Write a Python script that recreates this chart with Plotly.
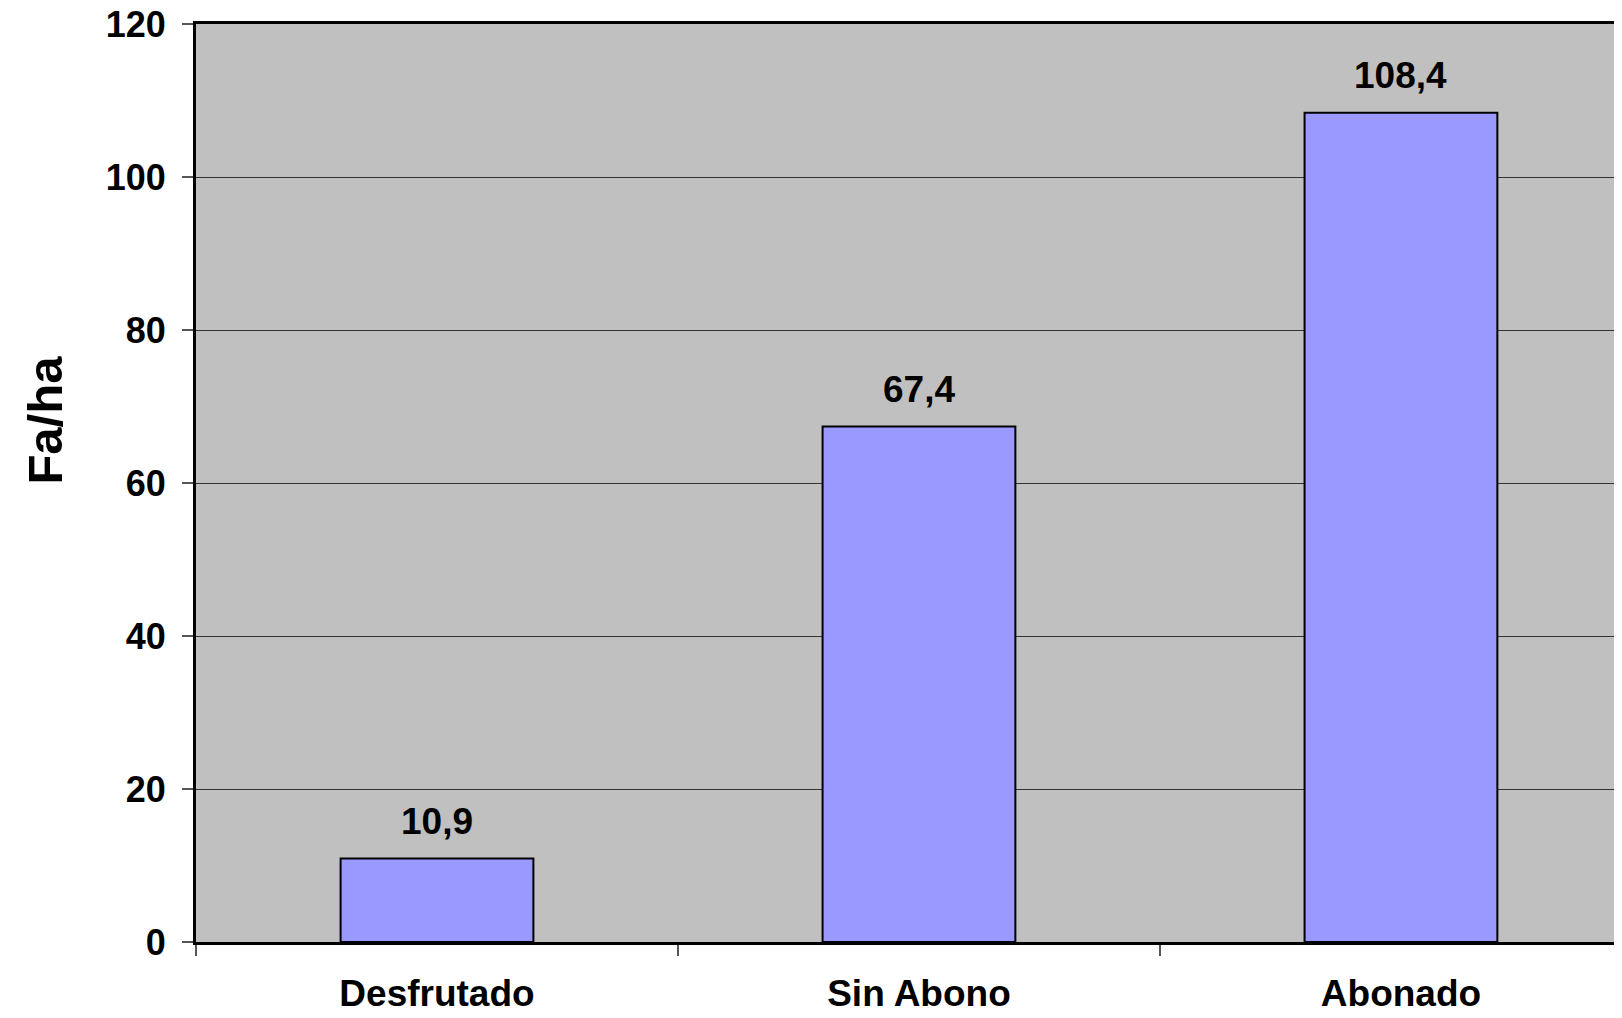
import plotly.graph_objects as go

categories = ["Desfrutado", "Sin Abono", "Abonado"]
values = [10.9, 67.4, 108.4]
value_labels = ["10,9", "67,4", "108,4"]
y_title = "Fa/ha"
y_ticks = [0, 20, 40, 60, 80, 100, 120]

FONT = "Liberation Sans, Arial, sans-serif"

fig = go.Figure()
fig.add_trace(go.Bar(
    x=categories, y=values,
    width=0.4,
    marker=dict(color="#9999FF", line=dict(color="black", width=2)),
    hoverinfo="skip",
))

for c, v, t in zip(categories, values, value_labels):
    fig.add_annotation(x=c, y=v, text=t, showarrow=False, xref="x", yref="y",
                       yanchor="middle", yshift=37,
                       font=dict(family=FONT, size=37, color="black", weight="bold"))

fig.add_annotation(xref="paper", yref="paper", x=0, y=0.568, xanchor="center", yanchor="middle",
                   xshift=-151, text=y_title, textangle=-90, showarrow=False,
                   font=dict(family=FONT, size=49, color="black", weight="bold"))

fig.update_layout(
    width=1606, height=1002,
    margin=dict(l=188, r=0, t=16, b=68, autoexpand=False),
    paper_bgcolor="white",
    plot_bgcolor="#C0C0C0",
    showlegend=False,
    bargap=0.6,
)

fig.update_xaxes(
    type="category",
    range=[-0.5, 2.442],
    automargin=False,
    tickson="boundaries",
    ticks="outside", ticklen=11, tickwidth=1.5, tickcolor="#555",
    showline=True, linecolor="black", linewidth=3, mirror=True,
    showgrid=False,
    tickfont=dict(family=FONT, size=37, color="black", weight="bold"),
    ticklabelstandoff=17,
    ticklabeloverflow="allow",
)

fig.update_yaxes(
    range=[0, 120],
    tickvals=y_ticks,
    automargin=False,
    ticks="outside", ticklen=11, tickwidth=1.5, tickcolor="#555",
    showline=True, linecolor="black", linewidth=3,
    showgrid=True, gridcolor="#333", gridwidth=1,
    zeroline=False,
    tickfont=dict(family=FONT, size=36, color="black", weight="bold"),
    ticklabelstandoff=9,
    ticklabeloverflow="allow",
)

fig.write_html("out.html")
